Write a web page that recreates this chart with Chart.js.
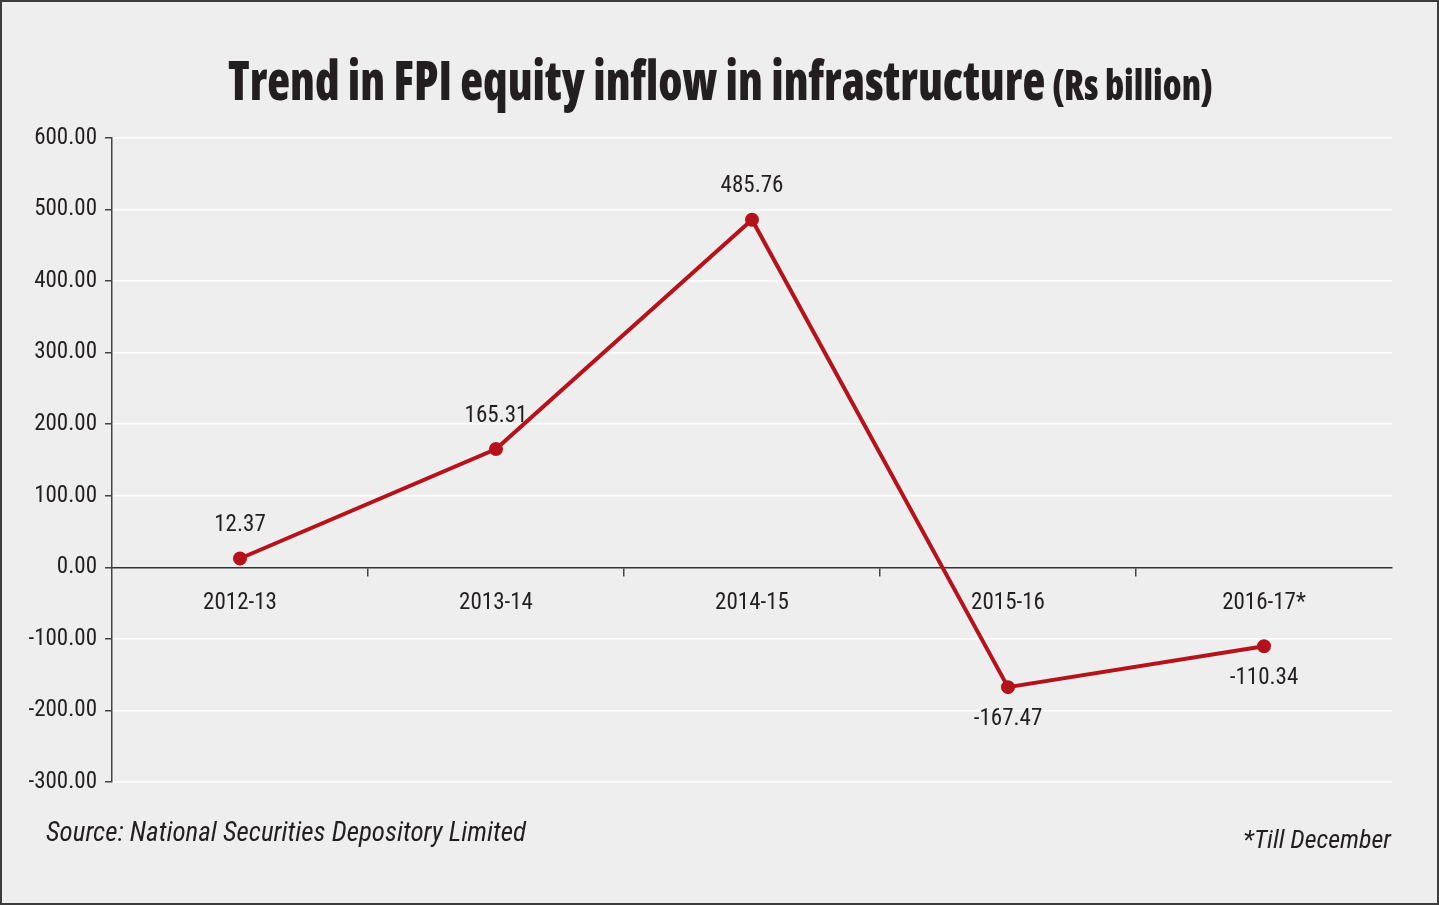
<!DOCTYPE html>
<html>
<head>
<meta charset="utf-8">
<script src="https://cdn.jsdelivr.net/npm/chart.js@4.4.1/dist/chart.umd.min.js"></script>
<style>
  html, body { margin: 0; padding: 0; background: #eeeeee; }
  #frame {
    position: relative; width: 1439px; height: 905px;
    box-sizing: border-box; border: 2px solid #3c3c3c; background: #eeeeee; overflow: hidden;
  }
  #chart { position: absolute; left: -2px; top: -2px; }
  #title {
    position: absolute; left: 226px; top: 50px; white-space: nowrap;
    font-family: 'Open Sans', sans-serif; font-weight: 800; font-stretch: condensed;
    color: #231f20; line-height: 1; transform-origin: 0 0;
  }
  #title .main { font-size: 54px; }
  #title .unit { font-size: 42px; margin-left: 8px; }
  .note {
    position: absolute; white-space: nowrap; line-height: 1; color: #231f20;
    font-family: 'Roboto Condensed', sans-serif; font-style: italic;
  }
  #source { left: 44px; top: 817px; font-size: 27px; }
  #till { right: 46px; top: 824px; font-size: 26px; }
</style>
</head>
<body>
<div id="frame">
  <canvas id="chart" width="1439" height="905"></canvas>
  <div id="title"><span class="main">Trend in FPI equity inflow in infrastructure</span><span class="unit">(Rs billion)</span></div>
  <div class="note" id="source">Source: National Securities Depository Limited</div>
  <div class="note" id="till">*Till December</div>
</div>
<script>
// Data
const years = ['2012-13', '2013-14', '2014-15', '2015-16', '2016-17*'];
const inflow = [12.37, 165.31, 485.76, -167.47, -110.34];
const yMin = -300;
const yMax = 600;
const yStep = 100;

const narrow = "'Roboto Condensed', sans-serif";
const red = '#b5121b';
const ink = '#231f20';

// squeeze the title to the reference width
const title = document.getElementById('title');
const natural = title.getBoundingClientRect().width;
title.style.transform = 'scaleX(' + (985 / natural) + ')';

// value labels above / below each point
const valueLabels = {
  id: 'valueLabels',
  afterDatasetsDraw(chart) {
    const ctx = chart.ctx;
    const meta = chart.getDatasetMeta(0);
    ctx.save();
    ctx.font = '23px ' + narrow;
    ctx.fillStyle = ink;
    ctx.textAlign = 'center';
    ctx.textBaseline = 'middle';
    meta.data.forEach((pt, i) => {
      const v = inflow[i];
      const dy = v >= 0 ? -33 : 32;
      ctx.fillText(v.toFixed(2), pt.x, pt.y + dy);
    });
    ctx.restore();
  }
};

const ctx = document.getElementById('chart').getContext('2d');
new Chart(ctx, {
  type: 'line',
  data: {
    labels: years,
    datasets: [{
      data: inflow,
      borderColor: red,
      backgroundColor: red,
      borderWidth: 4,
      pointRadius: 5,
      pointHoverRadius: 5,
      pointBackgroundColor: red,
      pointBorderColor: red,
      tension: 0,
      fill: false
    }]
  },
  options: {
    responsive: false,
    animation: false,
    layout: { padding: { left: 0, right: 47, top: 138, bottom: 123 } },
    plugins: {
      legend: { display: false },
      title: { display: false },
      tooltip: { enabled: false }
    },
    scales: {
      x: {
        type: 'category',
        position: { y: 0 },
        offset: true,
        grid: {
          offset: true,
          drawOnChartArea: false,
          drawTicks: true,
          tickLength: 8,
          lineWidth: 1.5,
          color: (c) => (c.index > 0 && c.index < years.length) ? '#444' : 'rgba(0,0,0,0)'
        },
        border: { display: true, color: '#333', width: 1.5 },
        ticks: {
          color: ink,
          font: { family: narrow, size: 23 },
          padding: 14,
          maxRotation: 0,
          autoSkip: false
        }
      },
      y: {
        min: yMin,
        max: yMax,
        afterFit: (scale) => { scale.width = 112; },
        grid: {
          color: (c) => (c.tick && c.tick.value === 0) ? 'rgba(0,0,0,0)' : '#ffffff',
          tickColor: '#444',
          lineWidth: 1.5,
          tickLength: 7
        },
        border: { display: true, color: '#444', width: 1.5 },
        ticks: {
          stepSize: yStep,
          color: ink,
          font: { family: narrow, size: 23 },
          padding: 8,
          callback: (v) => Number(v).toFixed(2)
        }
      }
    }
  },
  plugins: [valueLabels]
});
</script>
</body>
</html>
